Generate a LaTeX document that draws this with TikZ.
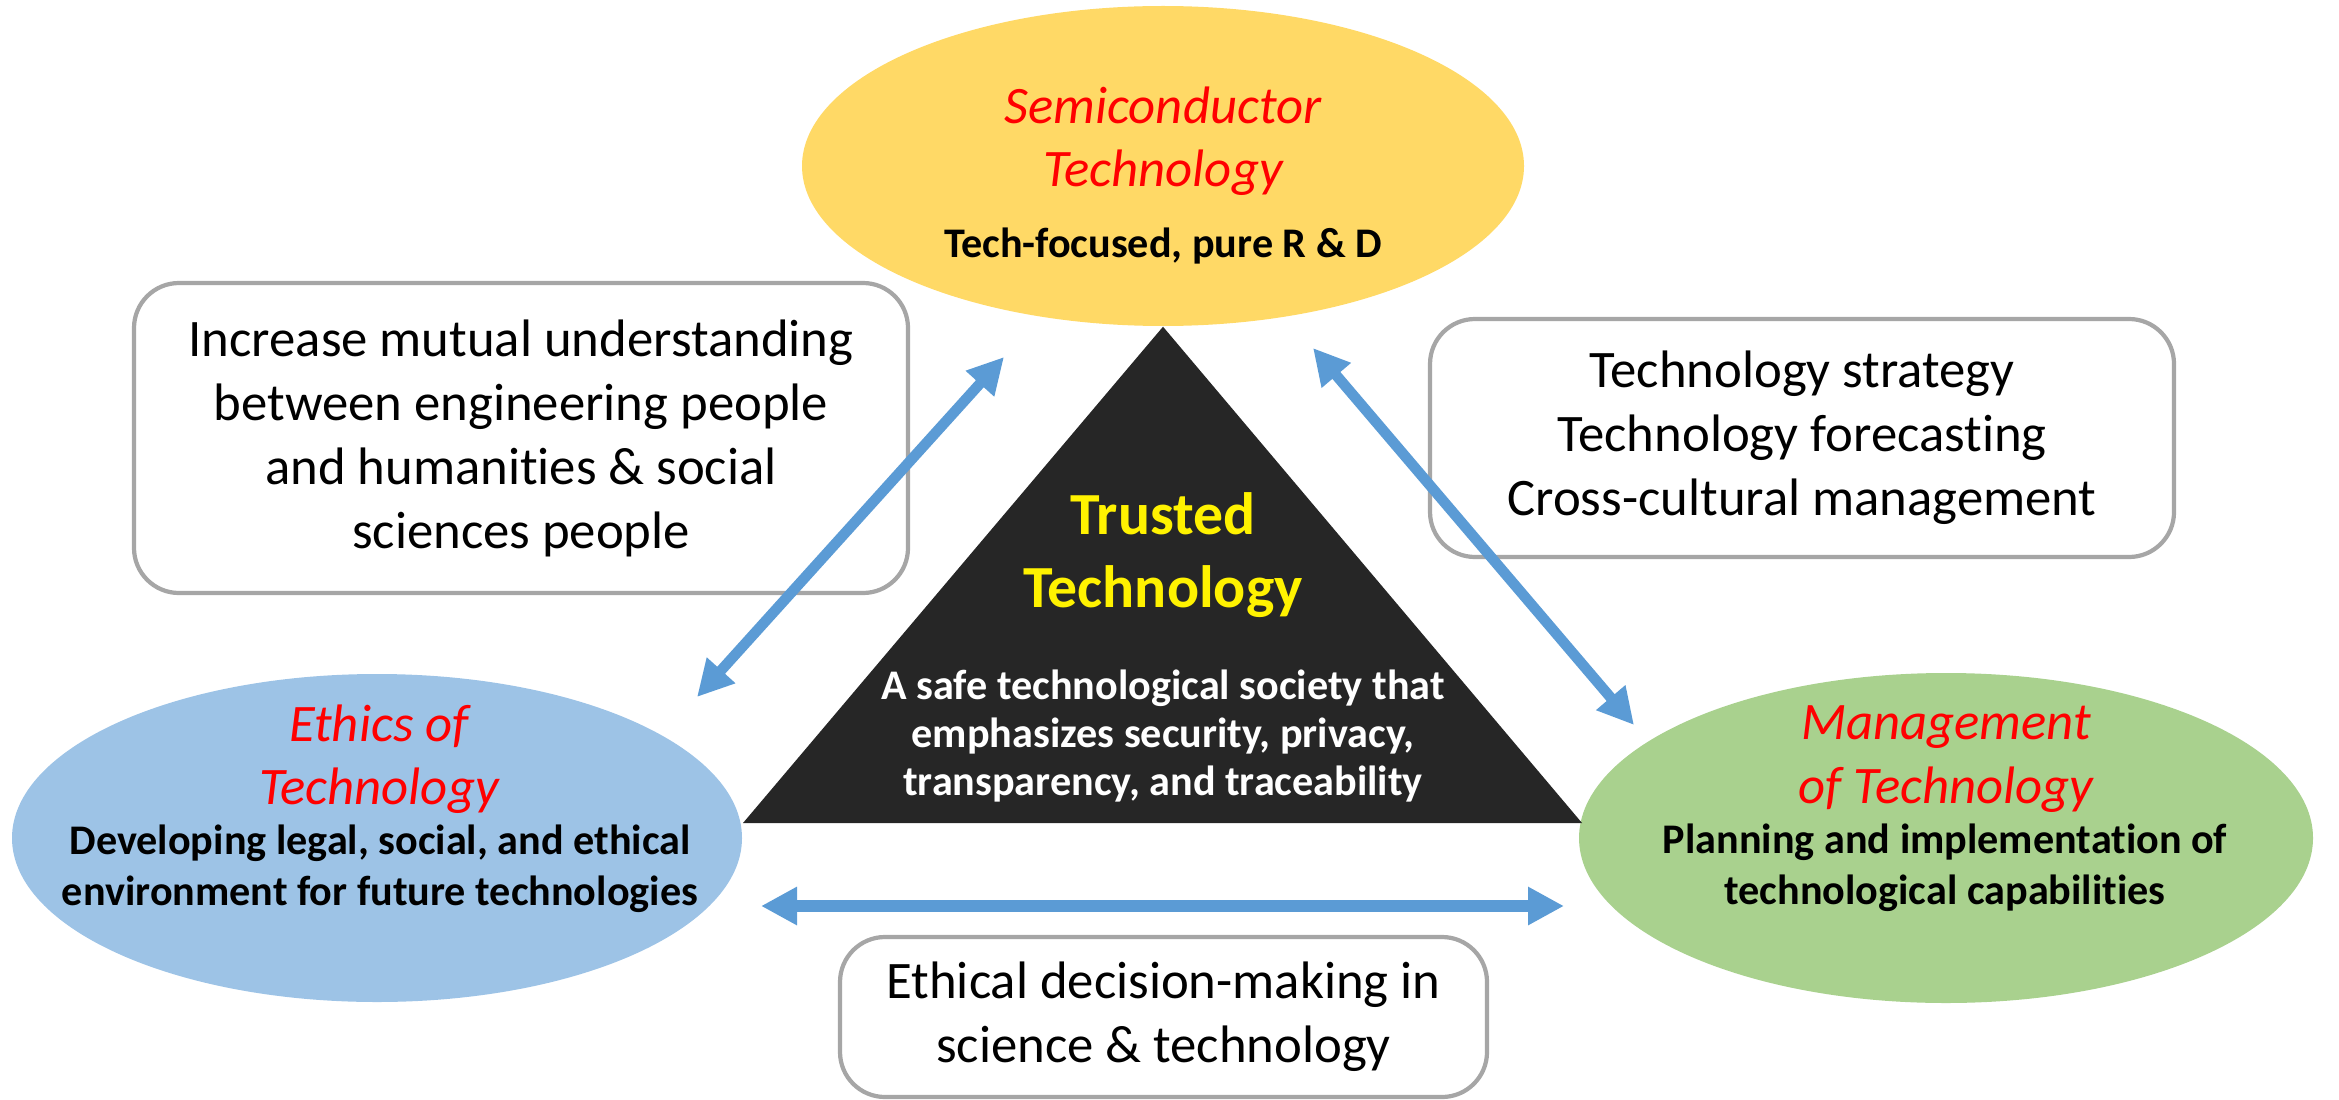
\documentclass[tikz,border=0pt]{standalone}
\usepackage{fontspec}
\setmainfont[Ligatures={NoCommon}]{Carlito}
\usepackage{xcolor}
\usepackage{tikz}
\usetikzlibrary{shapes.geometric,arrows.meta,positioning}

\definecolor{semiyellow}{HTML}{FFD966}
\definecolor{ethicsblue}{HTML}{9DC3E6}
\definecolor{mgmtgreen}{HTML}{A9D18E}
\definecolor{trustblack}{HTML}{262626}
\definecolor{linkblue}{HTML}{5B9BD5}
\definecolor{boxgray}{HTML}{A6A6A6}

\tikzset{
	area/.style={ellipse, inner sep=0pt, draw=none},
	areatitle/.style={align=center, inner sep=0pt, text=red, font=\fontsize{15}{18}\selectfont\itshape},
	areadesc/.style={align=center, inner sep=0pt, font=\fontsize{12}{14.6}\selectfont\bfseries},
	notebox/.style={draw=boxgray, line width=1.2pt, rounded corners=0.45cm, fill=white, align=center, inner sep=0pt, font=\fontsize{15}{18.2}\selectfont},
	link/.style={linkblue, line width=3pt, <->, >={Triangle[width=3.6mm,length=3.6mm]}}
}

\begin{document}
\begin{tikzpicture}
		\useasboundingbox (0,0) rectangle (23.39,10.99);
		\node[area, fill=semiyellow, minimum width=7.22cm, minimum height=3.20cm] (semi) at (11.63,9.33) {};
		\node[area, fill=ethicsblue, minimum width=7.30cm, minimum height=3.28cm] (ethics) at (3.77,2.61) {};
		\node[area, fill=mgmtgreen, minimum width=7.34cm, minimum height=3.30cm] (mgmt) at (19.46,2.61) {};
		\coordinate (baseL) at (7.43,2.76);
		\coordinate (baseR) at (15.82,2.76);
		\fill[trustblack] (semi.south) -- (baseR) -- (baseL) -- cycle;
		\node[areatitle] (semititle) at (11.63,9.58) {Semiconductor\\Technology};
		\node[areadesc] (semidesc) at (11.63,8.53) {Tech-focused, pure R \& D};
		\node[areatitle] (ethicstitle) at (3.79,3.40) {Ethics of\\Technology};
		\node[areadesc] (ethicsdesc) at (3.80,2.30) {Developing legal, social, and ethical\\environment for future technologies};
		\node[areatitle] (mgmttitle) at (19.46,3.40) {Management\\of Technology};
		\node[areadesc] (mgmtdesc) at (19.45,2.31) {Planning and implementation of\\technological capabilities};
		\node[align=center, inner sep=0pt, text=yellow, font=\fontsize{17}{20.8}\selectfont\bfseries] (trusted) at (11.63,5.44) {Trusted\\Technology};
		\node[areadesc, text=white, font=\fontsize{12}{13.6}\selectfont\bfseries] (trusteddesc) at (11.63,3.63) {A safe technological society that\\emphasizes security, privacy,\\transparency, and traceability};
		\node[notebox, minimum width=7.74cm, minimum height=3.10cm] (mutual) at (5.21,6.61) {Increase mutual understanding\\between engineering people\\and humanities \& social\\sciences people};
		\node[notebox, minimum width=7.44cm, minimum height=2.38cm] (strategy) at (18.02,6.61) {Technology strategy\\Technology forecasting\\Cross-cultural management};
		\node[notebox, minimum width=6.47cm, minimum height=1.60cm] (decision) at (11.635,0.82) {Ethical decision-making in\\science \& technology};
		\coordinate (ethicsend) at (6.97,4.02);
		\coordinate (semiendL) at (10.04,7.42);
		\coordinate (semiendR) at (13.13,7.51);
		\coordinate (mgmtend) at (16.34,3.74);
		\coordinate (ethicsside) at (7.61,1.93);
		\coordinate (mgmtside) at (15.64,1.93);
		\draw[link] (ethicsend) -- (semiendL);
		\draw[link] (semiendR) -- (mgmtend);
		\draw[link, line width=3.6pt] (ethicsside) -- (mgmtside);
	\end{tikzpicture}
\end{document}
